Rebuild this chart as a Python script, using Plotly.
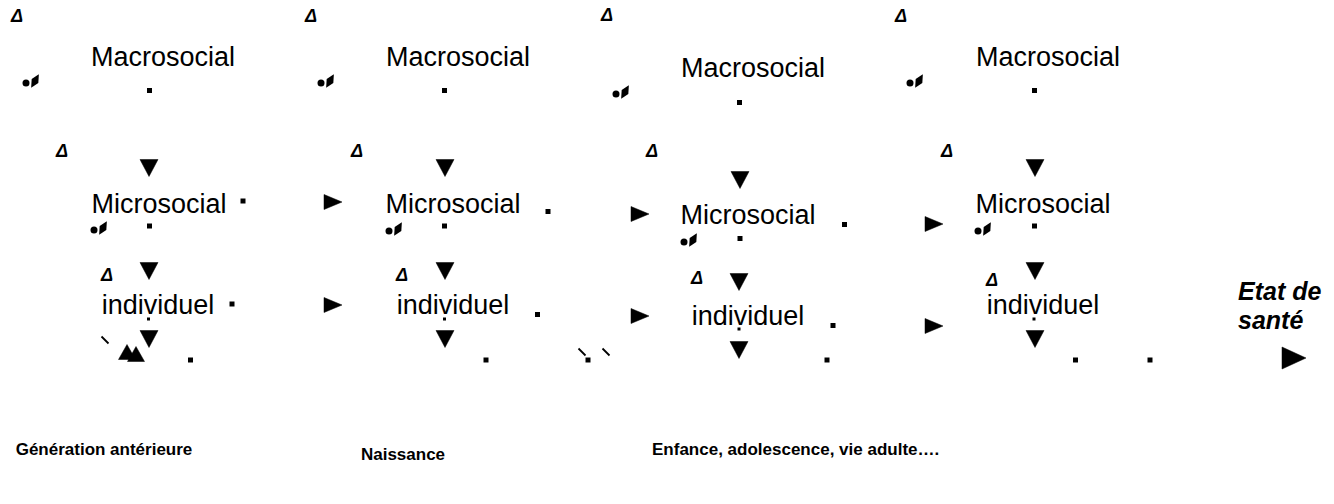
import plotly.graph_objects as go

FONT = "Liberation Sans, Arial, sans-serif"

# ---- text labels (centre positions) ----
level_macro = "Macrosocial"
level_micro = "Microsocial"
level_indiv = "individuel"
macro_x = [163, 458, 753, 1048]
macro_y = [59.5, 59.5, 70.5, 59.5]
micro_x = [159, 453, 748, 1043]
micro_y = [206.5, 206.5, 217.5, 206.5]
indiv_x = [158, 453, 748, 1043]
indiv_y = [307.5, 307.5, 318.5, 307.5]

outcome_lines = ["Etat de", "santé"]
outcome_x = [1238, 1238]
outcome_y = [294, 323]

period_labels = ["Génération antérieure", "Naissance", "Enfance, adolescence, vie adulte…."]
period_x = [104, 403, 652]
period_y = [451, 456, 451]
period_pos = ["middle center", "middle center", "middle right"]

# ---- arrow heads ----
down_x = [149, 149, 149, 445, 445, 445, 740, 739, 739, 1035, 1035, 1035]
down_y = [168, 271, 339, 168, 271, 339, 180, 282, 350, 168, 271, 339]
right_x = [333, 333, 640, 640, 934, 934]
right_y = [202, 305, 214, 316, 224, 326]
final_x = [1294]
final_y = [358]
cluster_x = [127, 136]
cluster_y = [352, 354]

# ---- small squares ----
sq_x = [149.5, 243, 149.5, 232, 190.5,
        444.5, 548, 444.5, 537.5, 486,
        739.5, 844.5, 740, 833, 827, 588,
        1034.5, 1034.5, 1075.5, 1150]
sq_y = [90.5, 201, 226, 304, 360,
        90.5, 211.5, 226, 314.5, 360,
        102.5, 224.5, 238.5, 325.5, 360, 360,
        90.5, 226, 360, 360]
tick_x = [148.5, 444.5, 739, 1034]
tick_y = [319, 319, 329, 319]

# ---- stray glyphs ----
delta_x = [17, 311, 607, 901, 62, 357, 652, 947, 107, 402, 697, 992]
delta_y = [17, 17, 16, 17, 152, 152, 152, 152, 276, 276, 279, 281]
ef_x = [31, 326, 621, 915, 99, 394, 689, 983]
ef_y = [82, 82, 93, 82, 229, 230, 241, 230]
slash_x = [105, 582, 606]
slash_y = [340, 352, 352]


def polys(cx, cy, shape, w, h):
    xs, ys = [], []
    for x, y in zip(cx, cy):
        if shape == "down":
            px = [x - w / 2, x + w / 2, x, x - w / 2]
            py = [y - h / 2, y - h / 2, y + h / 2, y - h / 2]
        elif shape == "right":
            px = [x - w / 2, x - w / 2, x + w / 2, x - w / 2]
            py = [y - h / 2, y + h / 2, y, y - h / 2]
        else:  # up
            px = [x - w / 2, x + w / 2, x, x - w / 2]
            py = [y + h / 2, y + h / 2, y - h / 2, y + h / 2]
        xs += px + [None]
        ys += py + [None]
    return xs, ys


fig = go.Figure()

def tri(cx, cy, shape, w, h):
    xs, ys = polys(cx, cy, shape, w, h)
    fig.add_trace(go.Scatter(x=xs, y=ys, mode="lines", fill="toself",
                             fillcolor="black", line=dict(color="black", width=0.5)))

tri(down_x, down_y, "down", 18, 17)
tri(right_x, right_y, "right", 18, 15)
tri(final_x, final_y, "right", 24, 22)
tri(cluster_x, cluster_y, "up", 17, 15)

fig.add_trace(go.Scatter(x=sq_x, y=sq_y, mode="markers",
                         marker=dict(symbol="square", size=5, color="black", line=dict(width=0))))
fig.add_trace(go.Scatter(x=tick_x, y=tick_y, mode="markers",
                         marker=dict(symbol="square", size=3, color="black", line=dict(width=0))))

# "ef"-like residue: dot + slanted block
fig.add_trace(go.Scatter(x=[x - 5 for x in ef_x], y=[y + 1 for y in ef_y], mode="markers",
                         marker=dict(symbol="circle", size=7, color="black", line=dict(width=0))))
fig.add_trace(go.Scatter(x=[x + 4 for x in ef_x], y=[y - 1 for y in ef_y], mode="markers",
                         marker=dict(symbol="diamond-tall", size=11, angle=30, color="black",
                                     line=dict(width=0))))

fig.add_trace(go.Scatter(x=slash_x, y=slash_y, mode="markers",
                         marker=dict(symbol="line-nw", size=7, line=dict(width=1.8, color="black"))))

fig.add_trace(go.Scatter(x=delta_x, y=delta_y, mode="text", text=["Δ"] * len(delta_x),
                         textposition="middle center",
                         textfont=dict(family=FONT, size=18, color="black", style="italic",
                                       weight="bold")))

for xs, ys, label in [(macro_x, macro_y, level_macro), (micro_x, micro_y, level_micro),
                      (indiv_x, indiv_y, level_indiv)]:
    fig.add_trace(go.Scatter(x=xs, y=ys, mode="text", text=[label] * len(xs),
                             textposition="middle center",
                             textfont=dict(family=FONT, size=27, color="black")))

fig.add_trace(go.Scatter(x=outcome_x, y=outcome_y, mode="text", text=outcome_lines,
                         textposition="middle right",
                         textfont=dict(family=FONT, size=25, color="black",
                                       style="italic", weight="bold")))

fig.add_trace(go.Scatter(x=period_x, y=period_y, mode="text", text=period_labels,
                         textposition=period_pos,
                         textfont=dict(family=FONT, size=17, color="black", weight="bold")))

fig.update_traces(hoverinfo="skip", cliponaxis=False)
fig.update_layout(
    width=1334, height=504, margin=dict(l=0, r=0, t=0, b=0),
    paper_bgcolor="white", plot_bgcolor="white", showlegend=False,
    xaxis=dict(range=[0, 1334], visible=False, fixedrange=True),
    yaxis=dict(range=[504, 0], visible=False, fixedrange=True),
    hovermode=False,
)
fig.write_html("out.html", config={"displayModeBar": False, "staticPlot": True},
               post_script="document.body.style.margin='0';document.body.style.overflow='hidden';")
